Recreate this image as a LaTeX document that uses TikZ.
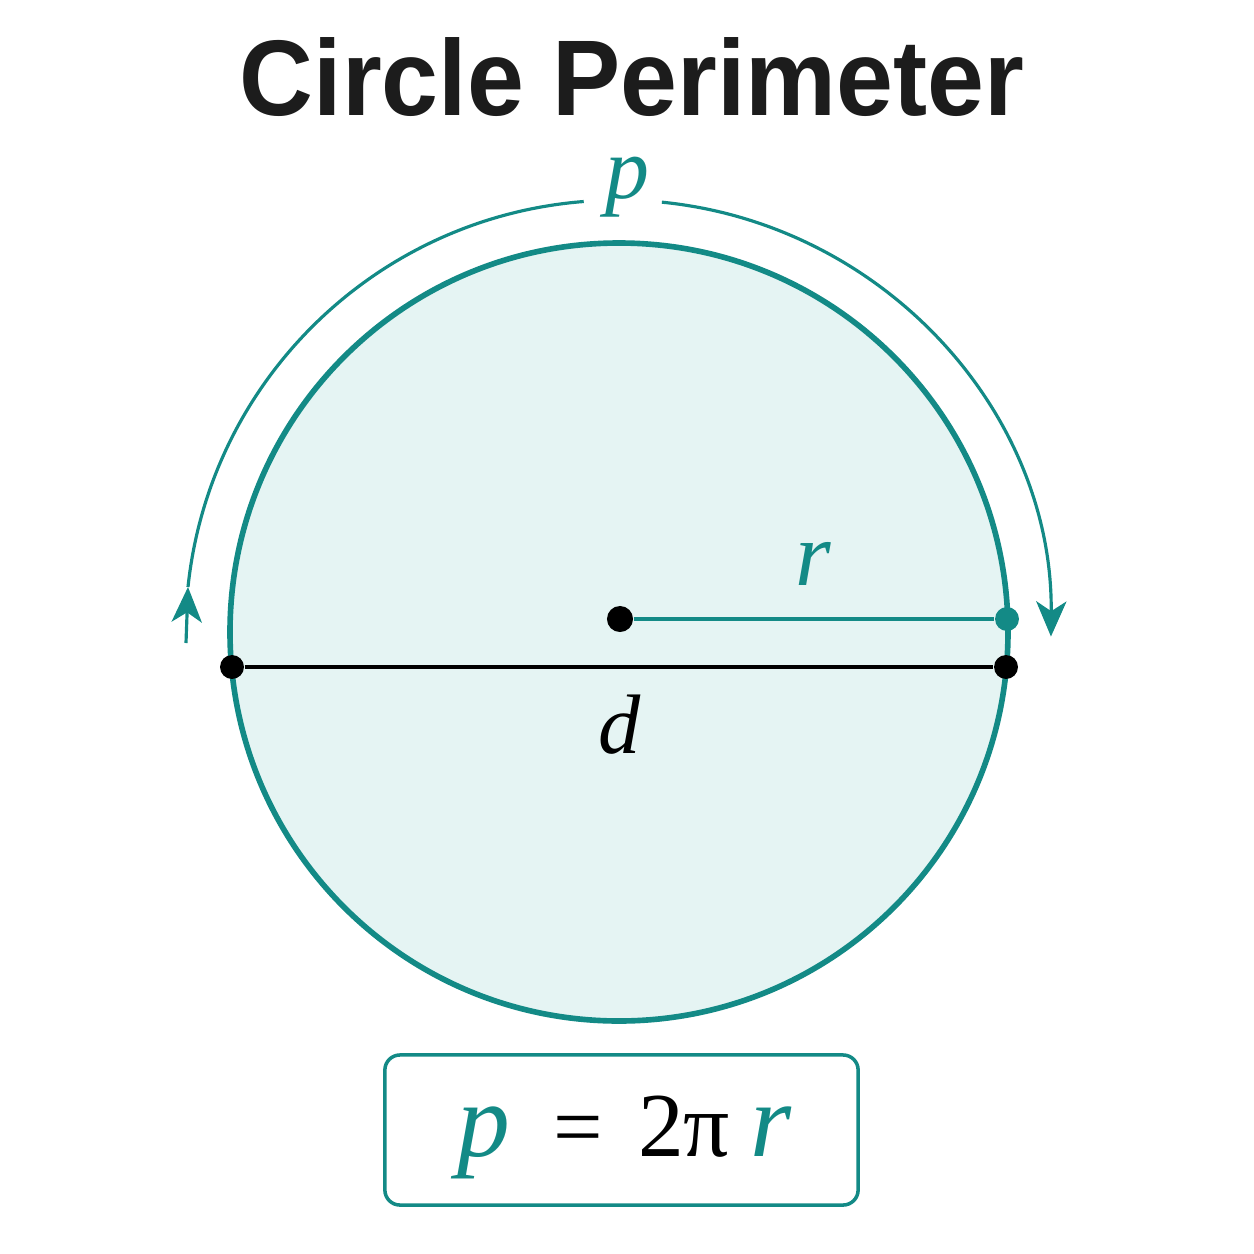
\documentclass[tikz,border=0pt]{standalone}
\usepackage{fontspec}
\setmainfont{Liberation Serif}
\newfontfamily\titlefont[FakeStretch=0.95]{Liberation Sans}
\usepackage{xcolor}
\usepackage{tikz}
\usetikzlibrary{arrows.meta, positioning, calc}

\definecolor{tealline}{HTML}{138A86}
\definecolor{tealfill}{HTML}{E5F4F3}
\definecolor{titleblack}{HTML}{1C1C1C}

\begin{document}
\begin{tikzpicture}[x=0.01cm, y=-0.01cm,
    dotnode/.style={circle, fill=#1, inner sep=0pt, minimum size=6.8pt},
    dotnode/.default=black,
    arcline/.style={tealline, line width=0.9pt},
    tip/.style={-{Stealth[length=10pt, width=8.6pt, inset=2.8pt]}},
    varlabel/.style={text=tealline, font=\itshape, anchor=base, inner sep=0pt}
  ]
    % Canvas (pixel grid, origin top left)
    \useasboundingbox (0,0) rectangle (1254,1254);

    % Title
    \node[font=\titlefont\bfseries\fontsize{30.6}{36}\selectfont, text=titleblack, anchor=base, inner sep=0pt]
        (title) at (632,115) {Circle Perimeter};

    % Circle
    \coordinate (O) at (619,632);
    \draw[tealline, line width=1.6pt, fill=tealfill] (O) circle[radius=389];

    % Points
    \node[dotnode, minimum size=7.4pt] (center) at (620,619) {};
    \node[dotnode=tealline] (redge) at (1007,619) {};
    \node[dotnode] (dleft) at (232,667) {};
    \node[dotnode] (dright) at (1006,667) {};

    % Radius and diameter
    \draw[tealline, line width=1.4pt] (center) -- (redge);
    \draw[black, line width=1.1pt] (dleft) -- (dright);
    \node[varlabel, font=\itshape\fontsize{26}{30}\selectfont] (rlabel) at (813,585) {r};
    \node[text=black, font=\itshape\fontsize{24}{28}\selectfont, anchor=base, inner sep=0pt]
        (dlabel) at (620,753) {d};

    % Perimeter arrows
    \coordinate (upstart) at (186,643);
    \coordinate (uptip) at (188,587);
    \draw[arcline, tip] (upstart) -- (uptip);
    \draw[arcline] (uptip) arc[start angle=-174, end angle=-94.5, radius=432];
    \draw[arcline, tip] (O) ++(-84.3:432) arc[start angle=-84.3, end angle=0.6, radius=432];
    \node[varlabel, font=\itshape\fontsize{25}{30}\selectfont] (plabel) at (627,198) {p};

    % Formula
    \node[draw=tealline, line width=1pt, rounded corners=4.3pt, minimum width=4.73cm, minimum height=1.5cm]
        (formulabox) at (621.5,1130) {};
    \node[varlabel, font=\itshape\fontsize{30}{36}\selectfont] (fp) at (484,1156) {p};
    \node[font=\fontsize{25}{30}\selectfont, anchor=base, inner sep=0pt] (feq) at (578,1156) {=};
    \node[font=\fontsize{26}{30}\selectfont, anchor=base, inner sep=0pt] (fpi) at (684,1156) {2π};
    \node[varlabel, font=\itshape\fontsize{30}{36}\selectfont] (fr) at (771,1156) {r};
\end{tikzpicture}
\end{document}
